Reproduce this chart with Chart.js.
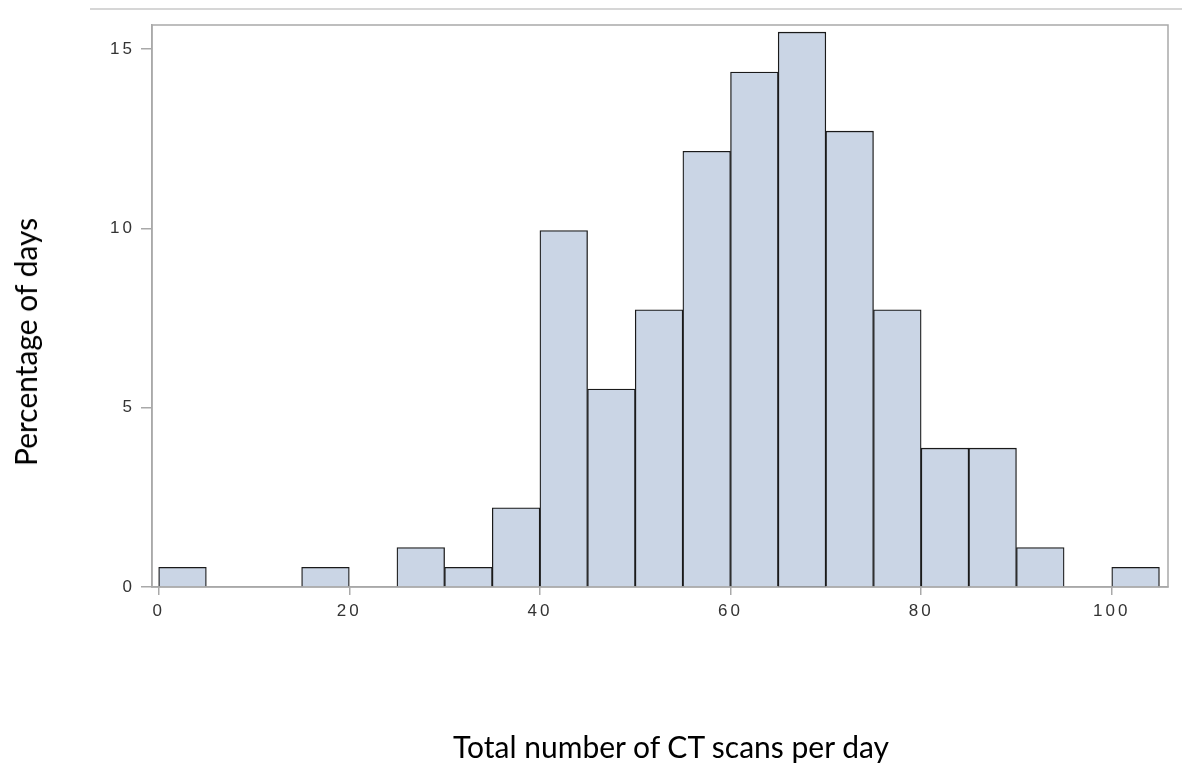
<!DOCTYPE html>
<html>
<head>
<meta charset="utf-8">
<script src="https://cdn.jsdelivr.net/npm/chart.js@4.4.0/dist/chart.umd.min.js"></script>
<style>
  body { margin: 0; background: #fff; }
  .wrap { position: relative; width: 1182px; height: 763px; }
  .topline { position: absolute; left: 90px; right: 0; top: 8px; border-top: 2px solid #d6d6d6; }
  .atitle { position: absolute; font-family: Lato, sans-serif; font-size: 30px; line-height: 1; color: #000; white-space: nowrap; }
  .xtitle { left: 671px; top: 746px; transform: translate(-50%, -50%); }
  .ytitle { left: 25px; top: 342px; transform: translate(-50%, -50%) rotate(-90deg); }
</style>
</head>
<body>
<div class="wrap">
  <div class="topline"></div>
  <canvas id="histChart" width="1182" height="763"></canvas>
  <div class="atitle xtitle">Total number of CT scans per day</div>
  <div class="atitle ytitle">Percentage of days</div>
</div>
<script>
'use strict'
// bins of 5 scans, start of each bin
const binStarts = [0, 5, 10, 15, 20, 25, 30, 35, 40, 45, 50, 55, 60, 65, 70, 75, 80, 85, 90, 95, 100];
const percentOfDays = [0.55, 0, 0, 0.55, 0, 1.10, 0.55, 2.21, 9.94, 5.52, 7.73, 12.15, 14.36, 15.47, 12.71, 7.73, 3.87, 3.87, 1.10, 0, 0.55];
const binWidth = 5;
const xTicks = [0, 20, 40, 60, 80, 100];
const yTicks = [0, 5, 10, 15];

const axisGray = '#a9a9a9';

const bars = [];
binStarts.forEach(function (start, i) {
    if (percentOfDays[i] > 0) bars.push({x: start + binWidth / 2, y: percentOfDays[i]});
});

// frame round the plot + spaced tick digits like the SAS output
const plotFrame = {
    id: 'plotFrame',
    beforeDatasetsDraw(chart) {
        const {ctx, chartArea: a} = chart;
        ctx.save();
        ctx.strokeStyle = axisGray;
        ctx.lineWidth = 1.5;
        ctx.strokeRect(a.left, a.top, a.right - a.left, a.bottom - a.top);
        ctx.restore();
    },
    afterDatasetsDraw(chart) { chart.ctx.letterSpacing = '3px'; },
    afterDraw(chart) { chart.ctx.letterSpacing = '0px'; }
};

const tickFont = {family: "'Liberation Sans', Arial, sans-serif", size: 17};

const histChart = new Chart(document.getElementById('histChart'), {
    type: 'bar',
    data: {
        datasets: [{
            data: bars,
            backgroundColor: '#cad5e5',
            borderColor: '#1a1a1a',
            borderWidth: 1.3,
            barPercentage: 1,
            categoryPercentage: 1
        }]
    },
    options: {
        responsive: false,
        animation: false,
        layout: {padding: {top: 25, right: 14, left: 0, bottom: 0}},
        plugins: {legend: {display: false}, tooltip: {enabled: false}},
        scales: {
            x: {
                type: 'linear',
                min: -0.7,
                max: 105.9,
                offset: false,
                grid: {offset: false, drawOnChartArea: false, color: axisGray, lineWidth: 1.5, tickLength: 8},
                border: {color: axisGray, width: 1.5},
                ticks: {font: tickFont, color: '#333', padding: 6, z: 1, maxRotation: 0},
                afterBuildTicks: function (scale) { scale.ticks = xTicks.map(v => ({value: v})); },
                afterFit: function (scale) { scale.height = 176; }
            },
            y: {
                min: 0,
                max: 15.67,
                grid: {drawOnChartArea: false, color: axisGray, lineWidth: 1.5, tickLength: 11},
                border: {color: axisGray, width: 1.5},
                ticks: {font: tickFont, color: '#333', padding: 6, z: 1},
                afterBuildTicks: function (scale) { scale.ticks = yTicks.map(v => ({value: v})); },
                afterFit: function (scale) { scale.width = 152; }
            }
        }
    },
    plugins: [plotFrame]
});
</script>
</body>
</html>
